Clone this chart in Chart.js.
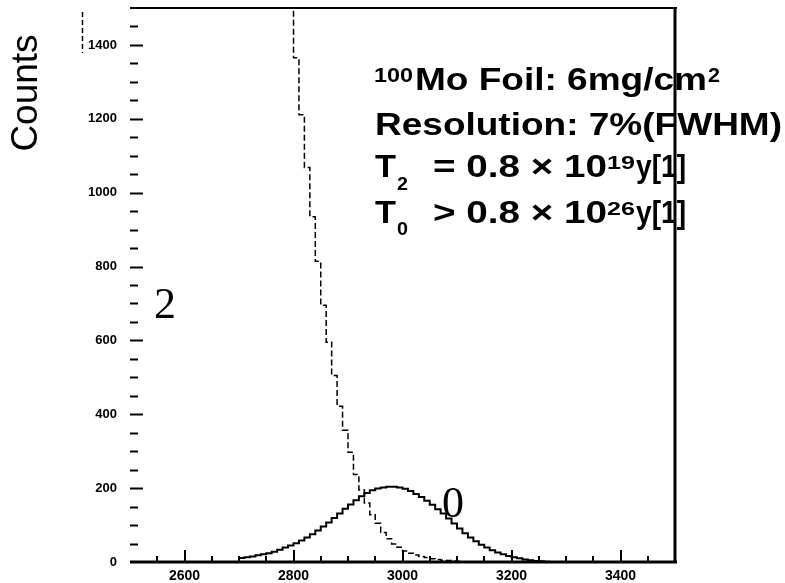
<!DOCTYPE html>
<html><head><meta charset="utf-8">
<script src="https://cdn.jsdelivr.net/npm/chart.js@4.4.1/dist/chart.umd.min.js"></script>
<style>html,body{margin:0;padding:0;background:#fff;}canvas{display:block;}</style>
</head><body>
<canvas id="c" width="785" height="583"></canvas>
<script>
// ---- data ----
const xTicks = [2600, 2800, 3000, 3200, 3400];
const yTicks = [0, 200, 400, 600, 800, 1000, 1200, 1400];
const binWidth = 10;
// 2-neutrino spectrum (dashed), left bin edges and counts
const edges2 = [2750,2760,2770,2780,2790,2800,2810,2820,2830,2840,2850,2860,2870,2880,2890,
  2900,2910,2920,2930,2940,2950,2960,2970,2980,2990,3000,3010,3020,3030,3040,3050,3060,3070,3080,3090,3100,3110,3120];
const counts2 = [2150,1980,1820,1680,1540,1365,1211,1068,935,814,695,595,505,422,357,
  297,237,195,160,128,105,80,63,49,40,30,24,19,15,12,9,7,5,4,3,2,1,0];
// 0-neutrino peak (solid)
const edges0 = [2700,2710,2720,2730,2740,2750,2760,2770,2780,2790,2800,2810,2820,2830,2840,2850,2860,2870,2880,2890,
  2900,2910,2920,2930,2940,2950,2960,2970,2980,2990,3000,3010,3020,3030,3040,3050,3060,3070,3080,3090,
  3100,3110,3120,3130,3140,3150,3160,3170,3180,3190,3200,3210,3220,3230,3240,3250,3260];
const counts0 = [11,13,15,18,21,24,28,33,39,45,51,58,66,75,85,96,107,119,131,144,
  156,167,178,187,194,199,202,204,204,202,198,192,184,176,166,155,143,131,118,104,
  91,78,66,56,47,39,32,26,21,16,13,10,7,5,3,2,1];

function histPoints(edges, counts, fromZero) {
  const pts = [];
  if (fromZero) pts.push({x: edges[0], y: 0});
  edges.forEach((e, i) => pts.push({x: e, y: counts[i]}));
  pts.push({x: edges[edges.length - 1] + binWidth, y: 0});
  return pts;
}

const SANS = '"Liberation Sans", Arial, sans-serif';
const SERIF = '"Liberation Serif", "Times New Roman", serif';

function piece(ctx, text, x, baseline, font, targetW) {
  ctx.font = font;
  const w = ctx.measureText(text).width;
  const sx = targetW ? targetW / w : 1;
  ctx.save();
  ctx.setTransform(sx, 0, 0, 1, x, 0);
  ctx.fillText(text, 0, baseline);
  ctx.restore();
  return x + w * sx;
}

const decor = {
  id: 'decor',
  afterDraw(chart) {
    const ctx = chart.ctx;
    const xs = chart.scales.x, ys = chart.scales.y;
    const ca = chart.chartArea;
    ctx.save();
    ctx.fillStyle = '#000';
    ctx.strokeStyle = '#000';
    ctx.textAlign = 'left';
    ctx.textBaseline = 'alphabetic';
    // ticks
    ctx.lineWidth = 2;
    for (let v = 2550; v <= 3450; v += 50) {
      const px = Math.round(xs.getPixelForValue(v));
      const major = xTicks.includes(v);
      ctx.beginPath();
      ctx.moveTo(px, ca.bottom);
      ctx.lineTo(px, ca.bottom - (major ? 12 : 6));
      ctx.stroke();
    }
    for (let v = 50; v <= 1450; v += 50) {
      const py = Math.round(ys.getPixelForValue(v)) + 0.5;
      const major = yTicks.includes(v);
      ctx.beginPath();
      ctx.moveTo(ca.left, py);
      ctx.lineTo(ca.left + (major ? 13 : 8), py);
      ctx.stroke();
    }
    // small dashed stroke left of the 1400 label
    ctx.save();
    ctx.lineWidth = 1.5;
    ctx.setLineDash([5, 3]);
    ctx.beginPath();
    ctx.moveTo(82.5, 12);
    ctx.lineTo(82.5, 53);
    ctx.stroke();
    ctx.restore();
    // serif labels
    ctx.font = '44px ' + SERIF;
    ctx.textAlign = 'center';
    ctx.fillText('2', 165, 318);
    ctx.fillText('0', 453, 517);
    ctx.textAlign = 'left';
    // Counts title
    ctx.save();
    ctx.translate(37, 93);
    ctx.rotate(-Math.PI / 2);
    ctx.font = '37px ' + SANS;
    ctx.textAlign = 'center';
    ctx.fillText('Counts', 0, 0);
    ctx.restore();
    // info block
    const B = n => 'bold ' + n + 'px ' + SANS;
    let x = piece(ctx, '100', 374, 82, B(20), 39);
    x = piece(ctx, 'Mo Foil: 6mg/cm', 415, 90, B(31), 292);
    piece(ctx, '2', x + 1, 82, B(20), 12);
    piece(ctx, 'Resolution: 7%(FWHM)', 375, 135, B(32), 407);
    piece(ctx, 'T', 375, 177, B(32), 21);
    piece(ctx, '2', 397, 190, B(18), 11);
    piece(ctx, '= 0.8 \u00d7 10', 433, 177, B(32), 174);
    piece(ctx, '19', 607, 169, B(19), 28);
    piece(ctx, 'y[1]', 636, 177, B(32), 50);
    piece(ctx, 'T', 375, 223, B(32), 21);
    piece(ctx, '0', 397, 235, B(18), 11);
    piece(ctx, '> 0.8 \u00d7 10', 433, 223, B(32), 174);
    piece(ctx, '26', 607, 215, B(19), 28);
    piece(ctx, 'y[1]', 636, 223, B(32), 50);
    // frame
    ctx.lineWidth = 3;
    ctx.beginPath();
    ctx.moveTo(ca.left, ca.bottom);
    ctx.lineTo(ca.right + 2, ca.bottom);
    ctx.stroke();
    ctx.beginPath();
    ctx.moveTo(ca.right, ca.top);
    ctx.lineTo(ca.right, ca.bottom);
    ctx.stroke();
    ctx.lineWidth = 2;
    ctx.beginPath();
    ctx.moveTo(ca.left, ca.top);
    ctx.lineTo(ca.right + 2, ca.top);
    ctx.stroke();
    ctx.restore();
  }
};

new Chart(document.getElementById('c'), {
  type: 'line',
  data: {
    datasets: [
      { data: histPoints(edges2, counts2, false), stepped: 'before', borderColor: '#000',
        borderWidth: 1.5, borderDash: [6, 3], pointRadius: 0, fill: false },
      { data: histPoints(edges0, counts0, true), stepped: 'before', borderColor: '#000',
        borderWidth: 2, pointRadius: 0, fill: false }
    ]
  },
  options: {
    responsive: false,
    animation: false,
    devicePixelRatio: 1,
    layout: { autoPadding: false, padding: { left: 0, right: 110, top: 8, bottom: 0 } },
    plugins: { legend: { display: false }, tooltip: { enabled: false }, title: { display: false } },
    scales: {
      x: {
        type: 'linear', min: 2500, max: 3500,
        grid: { display: false, drawTicks: false }, border: { display: false },
        afterBuildTicks: s => { s.ticks = xTicks.map(v => ({ value: v })); },
        afterFit: s => { s.height = 21; s.paddingLeft = 0; s.paddingRight = 0; },
        ticks: { color: '#000', padding: 6, maxRotation: 0, callback: v => String(v),
                 font: { family: SANS, size: 14, weight: 'bold' } }
      },
      y: {
        type: 'linear', min: 0, max: 1500,
        grid: { display: false, drawTicks: false }, border: { display: false },
        afterBuildTicks: s => { s.ticks = yTicks.map(v => ({ value: v })); },
        afterFit: s => { s.width = 130; s.paddingTop = 0; s.paddingBottom = 0; },
        ticks: { color: '#000', padding: 13, callback: v => String(v),
                 font: { family: SANS, size: 13, weight: 'bold' } }
      }
    }
  },
  plugins: [decor]
});
</script>
</body></html>
